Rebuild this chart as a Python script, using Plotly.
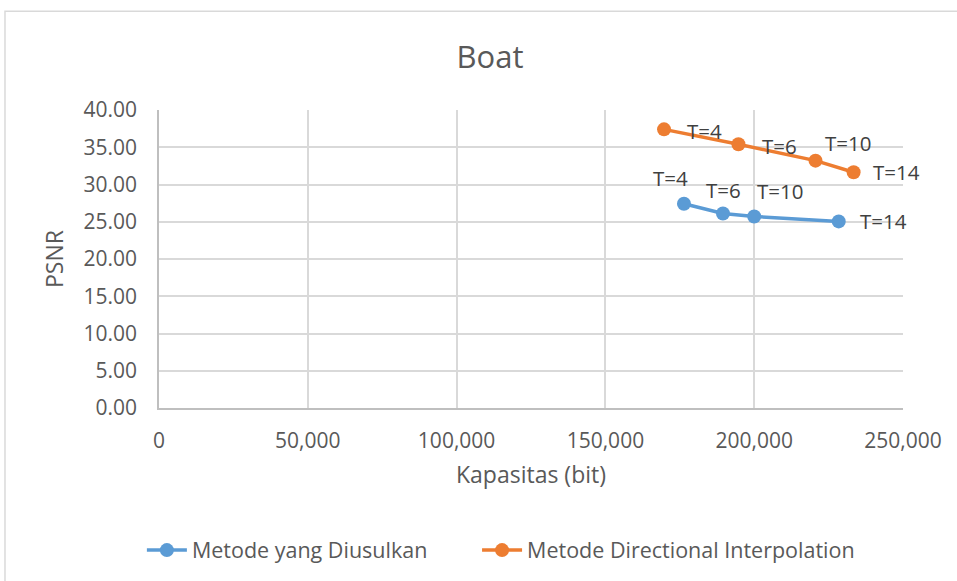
import plotly.graph_objects as go

# Capacity (bits) and PSNR for each threshold T, per method
thresholds = ["T=4", "T=6", "T=10", "T=14"]

usulan_kapasitas = [176400, 189500, 200000, 228400]
usulan_psnr = [27.42, 26.10, 25.70, 25.05]

di_kapasitas = [169700, 194700, 220600, 233400]
di_psnr = [37.40, 35.40, 33.20, 31.65]

x_ticks = [0, 50000, 100000, 150000, 200000, 250000]
y_ticks = [0, 5, 10, 15, 20, 25, 30, 35, 40]

BLUE = "#5b9bd5"
ORANGE = "#ed7d31"
FONT = "Open Sans"
TXT = "#595959"
GRID = "#d9d9d9"
NBSP = "\u00a0"

fig = go.Figure()

fig.add_trace(go.Scatter(
    x=usulan_kapasitas, y=usulan_psnr, mode="lines+markers",
    name="Metode yang Diusulkan" + NBSP * 8,
    line=dict(color=BLUE, width=3.5),
    marker=dict(color=BLUE, size=14),
))
fig.add_trace(go.Scatter(
    x=di_kapasitas, y=di_psnr, mode="lines+markers",
    name="Metode Directional Interpolation",
    line=dict(color=ORANGE, width=3.5),
    marker=dict(color=ORANGE, size=14),
))

# Data labels, nudged away from the markers (pixel offsets)
usulan_offsets = [(-13, 26), (1, 24), (26, 26), (45, 0)]
di_offsets = [(40, -2), (41, -2), (32, 18), (43, 0)]

for xs, ys, offs in [(usulan_kapasitas, usulan_psnr, usulan_offsets),
                     (di_kapasitas, di_psnr, di_offsets)]:
    for xv, yv, lab, (dx, dy) in zip(xs, ys, thresholds, offs):
        fig.add_annotation(
            x=xv, y=yv, text=lab, showarrow=False,
            xshift=dx, yshift=dy,
            font=dict(family=FONT, size=20.5, color="#404040"),
        )

# Outer chart-area border
fig.add_shape(
    type="rect", xref="paper", yref="paper",
    x0=-0.207, x1=1.08, y0=-0.62, y1=1.331,
    line=dict(color="#d9d9d9", width=1.5), fillcolor="rgba(0,0,0,0)",
    layer="below",
)

fig.update_layout(
    width=957, height=581,
    margin=dict(l=159, r=54, t=110, b=172),
    paper_bgcolor="white", plot_bgcolor="white",
    font=dict(family=FONT, size=21, color=TXT),
    title=dict(
        text="Boat", font=dict(family=FONT, size=31, color=TXT),
        x=0.445, xref="paper", xanchor="center",
        y=0.902, yref="container", yanchor="middle",
    ),
    showlegend=True,
    legend=dict(
        orientation="h", x=-0.023, xanchor="left",
        y=-0.472, yanchor="middle",
        font=dict(family=FONT, size=21.5, color=TXT),
        bgcolor="rgba(0,0,0,0)",
        itemwidth=40,
    ),
)

fig.update_xaxes(
    range=[0, 250000], tickvals=x_ticks, tickformat=",",
    showgrid=True, gridcolor=GRID, gridwidth=1.5,
    showline=True, linecolor="#bfbfbf", linewidth=1.5, mirror=False,
    zeroline=False, ticks="", ticklabelstandoff=13,
    tickfont=dict(family=FONT, size=21, color=TXT),
    title=dict(text="Kapasitas (bit)", standoff=14,
               font=dict(family=FONT, size=23, color=TXT)),
)
fig.update_yaxes(
    range=[0, 40], tickvals=y_ticks, tickformat=".2f",
    showgrid=True, gridcolor=GRID, gridwidth=1.5,
    showline=True, linecolor="#bfbfbf", linewidth=1.5,
    zeroline=False, ticks="", ticklabelstandoff=16,
    tickfont=dict(family=FONT, size=21, color=TXT),
    title=dict(text="PSNR", standoff=13,
               font=dict(family=FONT, size=23, color=TXT)),
)

fig.write_html("out.html")
